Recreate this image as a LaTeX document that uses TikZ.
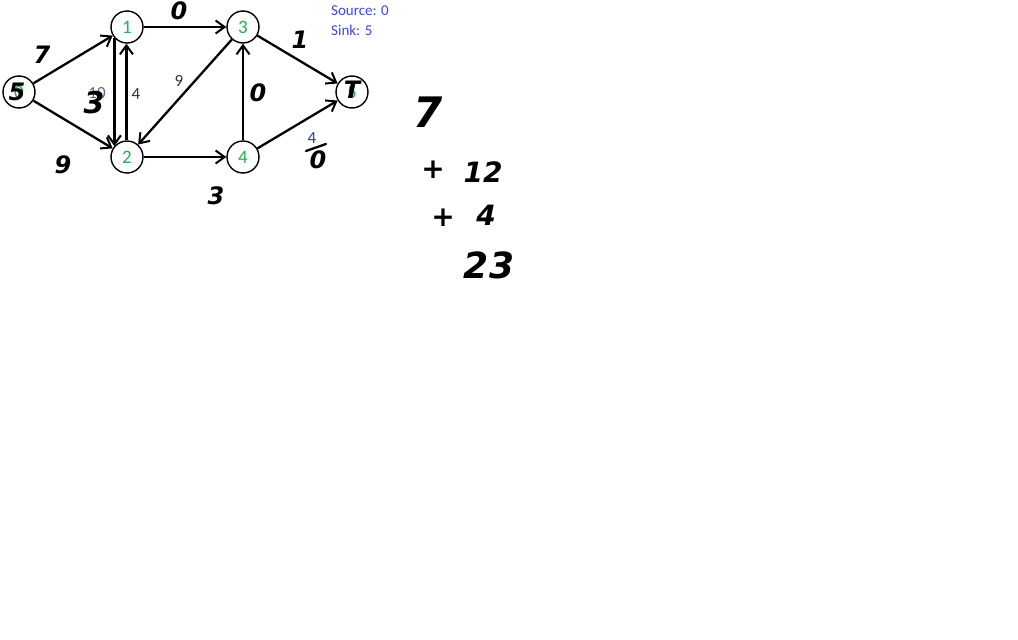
\documentclass[tikz,border=0pt]{standalone}
\usepackage{fontspec}
\setmainfont{Carlito}
\newfontfamily\handfont{DejaVu Sans}
\usetikzlibrary{arrows.meta, positioning, calc}
\definecolor{nodegreen}{HTML}{22B14C}
\definecolor{infoblue}{HTML}{3F48CC}
\tikzset{
    vertex/.style={draw=black, line width=1.4pt, circle, fill=white, minimum size=32pt, inner sep=0pt, text=nodegreen, font=\fontsize{19}{19}\selectfont},
    flow/.style={-{Straight Barb[length=9pt, width=13pt, line width=2pt]}, line width=2.3pt, black},
    capnum/.style={font=\fontsize{17}{17}\selectfont, text=black!80, inner sep=0pt},
    hand/.style={font=\handfont\bfseries\itshape\fontsize{24}{24}\selectfont, text=black, inner sep=0pt},
    bighand/.style={font=\handfont\bfseries\itshape\fontsize{42}{42}\selectfont, text=black, inner sep=0pt},
    info/.style={font=\fontsize{15}{15}\selectfont, text=infoblue, anchor=west, inner sep=0pt}
}
\begin{document}
\begin{tikzpicture}[x=1pt, y=-1pt]
    \useasboundingbox (0,0) rectangle (1018,640);
    % vertices
    \node [vertex] (n0) at (19,92) {0};
    \node [vertex] (n1) at (127,27) {1};
    \node [vertex] (n3) at (243,27) {3};
    \node [vertex] (n2) at (127,157) {2};
    \node [vertex] (n4) at (243,157) {4};
    \node [vertex] (n5) at (352,92) {5};
    % edges
    \draw [flow] (n0) -- (n1);
    \draw [flow] (n0) -- (n2);
    \draw [flow] (n1.221) -- (n2.139);
    \draw [flow] (n2.92) -- (n1.268);
    \draw [flow] (n1) -- (n3);
    \draw [flow] (n3) -- (n2);
    \draw [flow] (n2) -- (n4);
    \draw [flow] (n4) -- (n3);
    \draw [flow] (n3) -- (n5);
    \draw [flow] (n4) -- (n5);
    % printed capacities
    \node [capnum, text=infoblue!70!orange] (c12) at (97,93) {10};
    \node [capnum] (c21) at (136,94) {4};
    \node [capnum] (c32) at (179,81) {9};
    \node [capnum, text=infoblue!80!black] (c45) at (312,138) {4};
    % info
    \node [info] (src) at (331,11) {Source: 0};
    \node [info] (snk) at (331,30) {Sink: 5};
    % handwritten notes
    \node [hand] (h01) at (42,55) {7};
    \node [hand, font=\handfont\bfseries\itshape\fontsize{30}{30}\selectfont] (h12) at (94,103) {3};
    \node [hand] (h02) at (63,165) {9};
    \node [hand] (h13) at (179,11) {0};
    \node [hand] (h43) at (258,93) {0};
    \node [hand] (h35) at (300,40) {1};
    \node [hand] (h45) at (318,160) {0};
    \node [hand] (h24) at (216,196) {3};
    \node [hand] (h0) at (17,92) {5};
    \node [hand] (h5) at (352,90) {T};
    \coordinate (s1) at (306,151);
    \coordinate (s2) at (326,144);
    \draw [line width=2.3pt, line cap=round] (s1) -- (s2);
    % sum
    \node [bighand] (t1) at (428,112) {7};
    \node [hand, font=\handfont\bfseries\fontsize{28}{28}\selectfont] (p1) at (433,170) {+};
    \node [hand, font=\handfont\bfseries\itshape\fontsize{28}{28}\selectfont] (t2) at (483,172) {12};
    \node [hand, font=\handfont\bfseries\fontsize{28}{28}\selectfont] (p2) at (443,218) {+};
    \node [hand, font=\handfont\bfseries\itshape\fontsize{28}{28}\selectfont] (t3) at (486,215) {4};
    \node [hand, font=\handfont\bfseries\itshape\fontsize{36}{36}\selectfont] (tot) at (489,265) {23};
\end{tikzpicture}
\end{document}
